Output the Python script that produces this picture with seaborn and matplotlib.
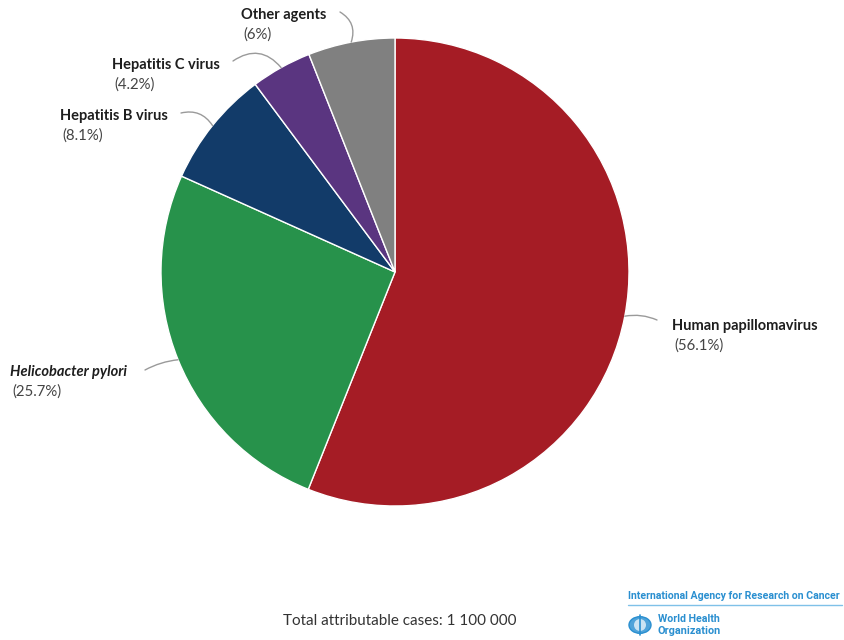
import matplotlib
matplotlib.use("Agg")
import matplotlib.pyplot as plt
import numpy as np
import seaborn as sns
from matplotlib.patches import Circle, Ellipse

# Share of infection-attributable cancer cases by agent
agents = ["Human papillomavirus", "Helicobacter pylori", "Hepatitis B virus",
          "Hepatitis C virus", "Other agents"]
shares = [56.1, 25.7, 8.1, 4.2, 6.0]
share_labels = ["(56.1%)", "(25.7%)", "(8.1%)", "(4.2%)", "(6%)"]
colors = ["#A51C25", "#27924B", "#123B69", "#5A3580", "#808080"]
total_text = "Total attributable cases: 1 100 000"

sns.set_theme(style="white")
plt.rcParams["font.family"] = ["Lato", "DejaVu Sans"]

W, H = 845, 640
fig = plt.figure(figsize=(W / 100, H / 100), dpi=100)
fig.patch.set_facecolor("white")


def fx(x):
    return x / W


def fy(y):
    return 1 - y / H


# Pie axes: centre (395, 272) px, radius 234 px
cx, cy, r = 395, 272, 234
ax = fig.add_axes([fx(cx - r), fy(cy + r), 2 * r / W, 2 * r / H])
wedges, _ = ax.pie(shares, colors=colors, startangle=90, counterclock=False,
                   radius=1.0,
                   wedgeprops=dict(edgecolor="white", linewidth=1.0))
ax.set_xlim(-1, 1)
ax.set_ylim(-1, 1)
ax.set_aspect("equal")
ax.axis("off")

# Label placement (text left edge, name line y) and leader-line end points
label_pos = [(672, 326), (10, 372), (60, 116), (112, 65), (241, 15)]
leader_end = [(657, 320), (145, 370), (181, 113), (233, 61), (340, 12)]
leader_rad = [0.15, -0.1, -0.35, -0.45, -0.4]

for i, w in enumerate(wedges):
    mid = np.deg2rad((w.theta1 + w.theta2) / 2)
    tip = (np.cos(mid), np.sin(mid))
    lx, ly = label_pos[i]
    style = "italic" if agents[i] == "Helicobacter pylori" else "normal"
    fig.text(fx(lx), fy(ly), agents[i], fontsize=10.5, fontweight="bold",
             fontstyle=style, color="#1E1E1E", ha="left", va="center")
    fig.text(fx(lx + 2), fy(ly + 20), share_labels[i], fontsize=10.8,
             color="#444444", ha="left", va="center")
    ex, ey = leader_end[i]
    ax.annotate("", xy=tip, xycoords="data",
                xytext=(fx(ex), fy(ey)), textcoords="figure fraction",
                arrowprops=dict(arrowstyle="-", color="#9A9A9A", lw=1.0,
                                shrinkA=0, shrinkB=0,
                                connectionstyle=f"arc3,rad={leader_rad[i]}"),
                annotation_clip=False)

# Footer
fig.text(fx(283), fy(621), total_text, fontsize=11.0, color="#333333",
         ha="left", va="center")

renderer = fig.canvas.get_renderer()


def fitted_text(x, y, s, width_px, size=9.0):
    t = fig.text(fx(x), fy(y), s, fontsize=size, fontweight="bold",
                 color="#2A8FD0", ha="left", va="center", family="Roboto")
    wpx = t.get_window_extent(renderer).width
    t.set_fontsize(size * width_px / wpx)
    return t


fitted_text(628, 596, "International Agency for Research on Cancer", 212)
fig.add_artist(plt.Line2D([fx(628), fx(842)], [fy(605), fy(605)],
                          color="#7FC1E8", lw=1.0))
# WHO emblem (simplified)
fig.add_artist(Circle((fx(640), fy(625)), 11 / W, transform=fig.transFigure,
                      facecolor="#4FA3DA", edgecolor="#2A8FD0", lw=1.0))
fig.add_artist(Ellipse((fx(640), fy(625)), 12 / W, 12 / H,
                       transform=fig.transFigure, facecolor="white",
                       edgecolor="none", alpha=0.7))
fig.add_artist(plt.Line2D([fx(640), fx(640)], [fy(615), fy(635)],
                          color="#2A8FD0", lw=1.2))
fitted_text(658, 619, "World Health", 62)
fitted_text(658, 631, "Organization", 62)

fig.savefig("out.png", dpi=100, facecolor="white")
